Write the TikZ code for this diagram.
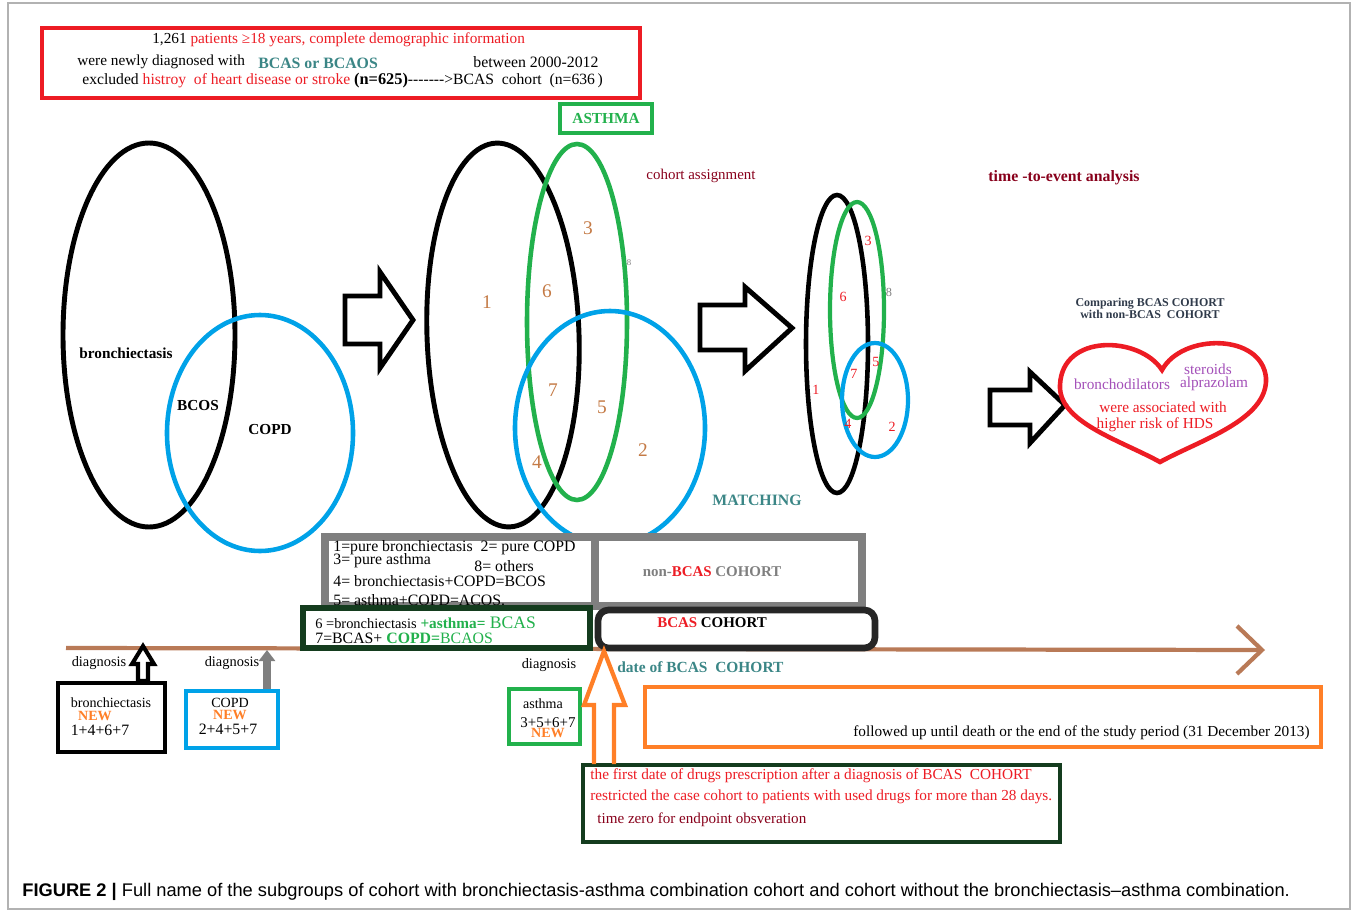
\documentclass[tikz,border=0pt]{standalone}
\usepackage{fontspec}
\setmainfont{Liberation Serif}
\setsansfont{Liberation Sans}
\usetikzlibrary{positioning,arrows.meta}
\definecolor{myred}{HTML}{ED1C24}
\definecolor{bcasteal}{HTML}{3B8686}
\definecolor{agreen}{HTML}{22B14C}
\definecolor{cblue}{HTML}{00A2E8}
\definecolor{numbrown}{HTML}{C47A45}
\definecolor{tlbrown}{HTML}{B97A57}
\definecolor{myorange}{HTML}{FF7F27}
\definecolor{dkgreen}{HTML}{143C1E}
\definecolor{lgray}{HTML}{7F7F7F}
\definecolor{lilac}{HTML}{A34FB8}
\definecolor{dkred}{HTML}{88001B}
\definecolor{slate}{HTML}{2F3A4A}
\newcommand{\fsz}[1]{\fontsize{#1}{#1}\selectfont}

\begin{document}
\begin{tikzpicture}[x=0.02cm,y=-0.02cm,
  every node/.style={inner sep=0pt},
  lbl/.style={font=\fsz{8.7}},
  boldlbl/.style={font=\fsz{8.7}\bfseries},
  bignum/.style={text=numbrown,font=\fsz{11}},
  smallnum/.style={text=myred,font=\fsz{8}},
  boxline/.style={draw,fill=white,line width=2.3pt},
  blockarrow/.style={draw,line width=2.8pt,line join=miter}]
\useasboundingbox (0,0) rectangle (1358,912);
\draw[gray!60,line width=0.6pt] (8,3) rectangle (1350,909);

% study population
\node[boxline,draw=myred,line width=2.6pt,minimum width=11.96cm,minimum height=1.4cm] (intro) at (341,63) {};
\node[lbl,anchor=west] (intro1) at (152,40) {1,261 \textcolor{myred}{patients ≥18 years, complete demographic information}};
\node[lbl,anchor=west] (intro2) at (77,62) {were newly diagnosed with};
\node[font=\fsz{9}\bfseries,text=bcasteal,anchor=west] (intro2b) at (258,63) {BCAS or BCAOS};
\node[font=\fsz{9},anchor=west] (intro2c) at (473,62) {between 2000-2012};
\node[font=\fsz{8.9},anchor=west] (intro3) at (82,81) {excluded \textcolor{myred}{histroy\ \ of heart disease or stroke} {\fsz{9.3}\bfseries(n=625)}-{}-{}-{}-{}-{}-{}->BCAS\ \ cohort\ \ (n=636\,)};

% first diagram
\draw[line width=2.8pt] (149,335) ellipse [x radius=86,y radius=192];
\draw[cblue,line width=2.6pt] (260,433) ellipse [x radius=93,y radius=118];
\node[boldlbl] (bron) at (126,353) {bronchiectasis};
\node[boldlbl] (bcos) at (198,406) {BCOS};
\node[boldlbl] (copd) at (270,430) {COPD};

\draw[blockarrow] (345,296) -- (380,296) -- (380,272) -- (413,320) -- (380,368) -- (380,344) -- (345,344) -- cycle;

% second diagram
\draw[line width=2.8pt,rotate around={2:(503,335)}] (503,335) ellipse [x radius=76,y radius=192];
\draw[agreen,line width=2.6pt] (577,322) ellipse [x radius=50,y radius=178];
\draw[cblue,line width=2.6pt] (610,428) ellipse [x radius=95,y radius=117];
\node[boxline,draw=agreen,line width=2.4pt,minimum width=1.84cm,minimum height=0.58cm] (asthmahead) at (606,118.5) {};
\node[font=\fsz{8.7}\bfseries,text=agreen] (asthmatxt) at (606,118.5) {ASTHMA};
\node[bignum] (n1) at (487,302) {1};
\node[bignum] (n3) at (588,228) {3};
\node[bignum] (n6) at (547,291) {6};
\node[bignum] (n7) at (553,390) {7};
\node[bignum] (n5) at (602,407) {5};
\node[bignum] (n4) at (537,462) {4};
\node[bignum] (n2) at (643,450) {2};
\node[text=lgray,font=\fsz{5}] (n8) at (629,263) {8};
\node[font=\fsz{8.5},text=dkred] (assign) at (701,176) {cohort assignment};
\node[font=\fsz{9}\bfseries,text=bcasteal] (matching) at (757,500) {MATCHING};

\draw[blockarrow] (700,305) -- (745,305) -- (745,287) -- (792,328) -- (745,371) -- (745,350) -- (700,350) -- cycle;

% third diagram
\draw[line width=2.6pt] (837,344) ellipse [x radius=31,y radius=149];
\draw[agreen,line width=2.4pt] (857,310) ellipse [x radius=27,y radius=108];
\draw[cblue,line width=2.4pt] (875,400) ellipse [x radius=33,y radius=57];
\node[smallnum] (m3) at (868,241) {3};
\node[text=lgray,font=\fsz{7}] (m8) at (889,292) {8};
\node[smallnum] (m6) at (843,297) {6};
\node[smallnum] (m5) at (876,362) {5};
\node[smallnum] (m7) at (854,374) {7};
\node[smallnum] (m1) at (816,390) {1};
\node[smallnum] (m4) at (848,424) {4};
\node[smallnum] (m2) at (892,427) {2};
\node[font=\fsz{9}\bfseries,text=dkred] (tte) at (1064,178) {time -to-event analysis};

% outcome
\node[font=\fsz{6.8}\bfseries,text=slate,align=center] (compare) at (1150,308) {Comparing BCAS COHORT\\with non-BCAS\ \ COHORT};
\draw[blockarrow] (990,390) -- (1030,390) -- (1030,372) -- (1065,405) -- (1030,443) -- (1030,425) -- (990,425) -- cycle;
\draw[myred,line width=2.6pt] (1162,370) .. controls (1140,336) and (1062,333) .. (1060,385)
  .. controls (1058,422) and (1120,440) .. (1160,462)
  .. controls (1200,440) and (1268,420) .. (1266,378)
  .. controls (1262,333) and (1182,333) .. (1162,370) -- cycle;
\node[lbl,text=lilac] (bd) at (1122,384) {bronchodilators};
\node[lbl,text=lilac] (ster) at (1208,369) {steroids};
\node[lbl,text=lilac] (alpr) at (1214,384) {alprazolam};
\node[lbl,text=myred] (assoc) at (1163,407) {were associated with};
\node[lbl,text=myred] (risk) at (1155,425) {higher risk of HDS};

% time line
\coordinate (tstart) at (66,648);
\coordinate (tend) at (1265,650);
\draw[tlbrown,line width=2.4pt,-{Straight Barb[length=0.5cm,width=0.96cm]}] (tstart) -- (tend);

% subgroup key
\node[boxline,draw=lgray,line width=4.3pt,minimum width=5.4cm,minimum height=1.38cm] (keyL) at (460,571.5) {};
\node[boxline,draw=lgray,line width=4.3pt,minimum width=5.34cm,minimum height=1.38cm] (keyR) at (728.5,571.5) {};
\node[font=\fsz{9},anchor=west] (k1) at (333,548) {1=pure bronchiectasis\ \ 2= pure COPD};
\node[font=\fsz{9},anchor=west] (k3) at (333,561) {3= pure asthma};
\node[font=\fsz{9},anchor=west] (k8) at (474,566) {8= others};
\node[font=\fsz{9},anchor=west] (k4) at (333,581) {4= bronchiectasis+COPD=BCOS};
\node[font=\fsz{9},anchor=west] (k5) at (333,600) {5= asthma+COPD=ACOS.};
\node[font=\fsz{8.5}\bfseries,text=lgray] (nonbcas) at (712,572) {non-\textcolor{myred}{BCAS} COHORT};
\node[boxline,draw=dkgreen,line width=3.4pt,minimum width=5.74cm,minimum height=0.8cm] (keyB) at (446.5,628) {};
\node[font=\fsz{8.2},anchor=west] (k6) at (315,623) {6 =bronchiectasis\textcolor{agreen}{\bfseries\fsz{8.7} +asthma=}\textcolor{agreen}{\fsz{10} BCAS}};
\node[font=\fsz{9},anchor=west] (k7) at (315,638) {7=BCAS+ \textcolor{agreen}{\bfseries COPD=}\textcolor{agreen}{BCAOS}};
\node[boxline,draw=black!85,line width=3.8pt,rounded corners=6pt,minimum width=5.54cm,minimum height=0.76cm] (bcas) at (736.5,629) {};
\node[font=\fsz{8.5}\bfseries] (bcastxt) at (712,623) {\textcolor{myred}{BCAS} COHORT};

% diagnoses
\node[font=\fsz{8.2}] (dg1) at (99,663) {diagnosis};
\draw[line width=2.3pt,line join=miter] (138,681) -- (138,664) -- (132,664) -- (143,646) -- (154,664) -- (148,664) -- (148,681) -- cycle;
\node[boxline,line width=2.8pt,minimum width=2.14cm,minimum height=1.38cm] (bbox) at (111.5,717.5) {};
\node[font=\fsz{8}] (bname) at (111,703) {bronchiectasis};
\node[font=\fsz{8}\bfseries,text=myorange] (bnew) at (95,716) {NEW};
\node[font=\fsz{9}] (bsum) at (100,730) {1+4+6+7};

\node[font=\fsz{8.2}] (dg2) at (232,663) {diagnosis};
\draw[lgray,line width=4.5pt,-{Triangle[length=0.22cm,width=0.32cm]}] (267,692) -- (267,650);
\node[boxline,draw=cblue,line width=2.8pt,minimum width=1.84cm,minimum height=1.14cm] (cbox) at (232,719.5) {};
\node[font=\fsz{8}] (cname) at (230,703) {COPD};
\node[font=\fsz{8}\bfseries,text=myorange] (cnew) at (230,715) {NEW};
\node[font=\fsz{9}] (csum) at (228,729) {2+4+5+7};

\node[font=\fsz{8.2}] (dg3) at (549,665) {diagnosis};
\node[boxline,draw=agreen,line width=2.8pt,minimum width=1.42cm,minimum height=1.1cm] (abox) at (544.5,716.5) {};
\node[font=\fsz{8}] (aname) at (543,704) {asthma};
\node[font=\fsz{8.5}] (asum) at (548,723) {3+5+6+7};
\node[font=\fsz{8}\bfseries,text=myorange] (anew) at (548,733) {NEW};

% follow-up
\node[font=\fsz{8.8}\bfseries,text=bcasteal,anchor=west] (dateb) at (617,667) {date of BCAS\ \ COHORT};
\node[boxline,draw=myorange,line width=2.6pt,minimum width=13.52cm,minimum height=1.2cm] (follow) at (983,717) {};
\node[lbl,anchor=east] (followtxt) at (1310,733) {followed up until death or the end of the study period (31 December 2013)};
\node[boxline,draw=dkgreen,line width=2.6pt,minimum width=9.54cm,minimum height=1.54cm] (drug) at (821.5,803.5) {};
\draw[myorange,line width=2.4pt,line join=miter] (594,764) -- (594,705) -- (584,705) -- (604,651) -- (625,705) -- (614,705) -- (614,764);
\node[font=\fsz{8.7},text=myred,anchor=west] (drug1) at (590,776) {the first date of drugs prescription after a diagnosis of BCAS\ \ COHORT};
\node[font=\fsz{8.7},text=myred,anchor=west] (drug2) at (590,797) {restricted the case cohort to patients with used drugs for more than 28 days.};
\node[font=\fsz{8.6},text=dkred,anchor=west] (drug3) at (597,820) {time zero for endpoint obsveration};

% caption
\node[anchor=west,font=\sffamily\fsz{10.4}] (caption) at (22,892) {\textbf{FIGURE 2 |} Full name of the subgroups of cohort with bronchiectasis-asthma combination cohort and cohort without the bronchiectasis–asthma combination.};
\end{tikzpicture}
\end{document}
